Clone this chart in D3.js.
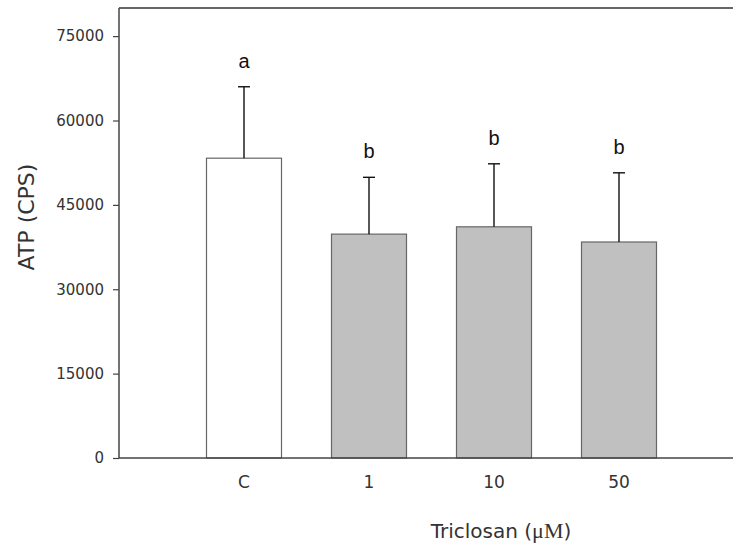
<!DOCTYPE html>
<html><head><meta charset="utf-8">
<script src="https://cdn.jsdelivr.net/npm/d3@7/dist/d3.min.js"></script>
<style>body{margin:0;background:#fff}svg{display:block}</style>
</head><body>
<script>
const categories = ["C", "1", "10", "50"];
const means = [53300, 39800, 41100, 38400];
const sds = [12700, 10100, 11200, 12300];
const letters = ["a", "b", "b", "b"];
const fills = ["#ffffff", "#c0c0c0", "#c0c0c0", "#c0c0c0"];
const yTicks = [0, 15000, 30000, 45000, 60000, 75000];

const W = 733, H = 546;
const svg = d3.select("body").append("svg").attr("width", W).attr("height", H);
const x0 = 119, x1 = 744, yTop = 8, yBot = 458;
const font = "'DejaVu Sans', sans-serif";

const y = d3.scaleLinear().domain([0, 80000]).range([yBot, yTop]);
const xc = d3.scalePoint().domain(["_start", ...categories, "_end"]).range([x0, x1]);
const step = xc.step();
const bw = step * 0.6;

// bars
svg.selectAll("rect.bar").data(categories).join("rect")
  .attr("x", d => xc(d) - bw / 2)
  .attr("y", (d, i) => y(means[i]))
  .attr("width", bw)
  .attr("height", (d, i) => yBot - y(means[i]))
  .attr("fill", (d, i) => fills[i])
  .attr("stroke", "#666").attr("stroke-width", 1.2);

// error bars
categories.forEach((d, i) => {
  const cx = xc(d);
  svg.append("line").attr("x1", cx).attr("x2", cx)
    .attr("y1", y(means[i])).attr("y2", y(means[i] + sds[i]))
    .attr("stroke", "#111").attr("stroke-width", 1.4);
  svg.append("line").attr("x1", cx - 6).attr("x2", cx + 6)
    .attr("y1", y(means[i] + sds[i])).attr("y2", y(means[i] + sds[i]))
    .attr("stroke", "#111").attr("stroke-width", 1.4);
  svg.append("text").attr("x", cx).attr("y", y(means[i] + sds[i]) - 19)
    .attr("text-anchor", "middle")
    .attr("font-family", "'Liberation Sans', Arial, sans-serif")
    .attr("font-size", 20).attr("fill", "#111").text(letters[i]);
});

// axes frame
svg.append("line").attr("x1", x0).attr("x2", W).attr("y1", yTop).attr("y2", yTop)
  .attr("stroke", "#333").attr("stroke-width", 1.5);
svg.append("line").attr("x1", x0).attr("x2", W).attr("y1", yBot).attr("y2", yBot)
  .attr("stroke", "#444").attr("stroke-width", 1.5);

// y axis
const yAxis = d3.axisLeft(y).tickValues(yTicks).tickSize(6).tickPadding(9).tickFormat(d3.format("d"));
const ga = svg.append("g").attr("transform", `translate(${x0},0)`).call(yAxis);
ga.select(".domain").attr("d", `M0,${yTop}V${yBot}`).attr("stroke", "#444").attr("stroke-width", 1.5);
ga.selectAll(".tick line").attr("stroke", "#444").attr("stroke-width", 1.2);
ga.selectAll(".tick text").attr("font-family", font).attr("font-size", 15).attr("fill", "#333");

// x tick labels
svg.selectAll("text.xl").data(categories).join("text")
  .attr("x", d => xc(d)).attr("y", 488)
  .attr("text-anchor", "middle")
  .attr("font-family", font).attr("font-size", 17).attr("fill", "#333")
  .text(d => d);

// axis titles
const xt = svg.append("text").attr("x", 501).attr("y", 538).attr("text-anchor", "middle")
  .attr("font-family", font).attr("font-size", 20).attr("fill", "#333");
xt.append("tspan").text("Triclosan (");
xt.append("tspan").attr("font-family", "'Liberation Serif', serif").attr("font-size", 22).text("μM");
xt.append("tspan").text(")");

svg.append("text").attr("transform", "translate(34,217) rotate(-90)")
  .attr("text-anchor", "middle").attr("font-family", font).attr("font-size", 22).attr("fill", "#333")
  .text("ATP (CPS)");
</script>
</body></html>
